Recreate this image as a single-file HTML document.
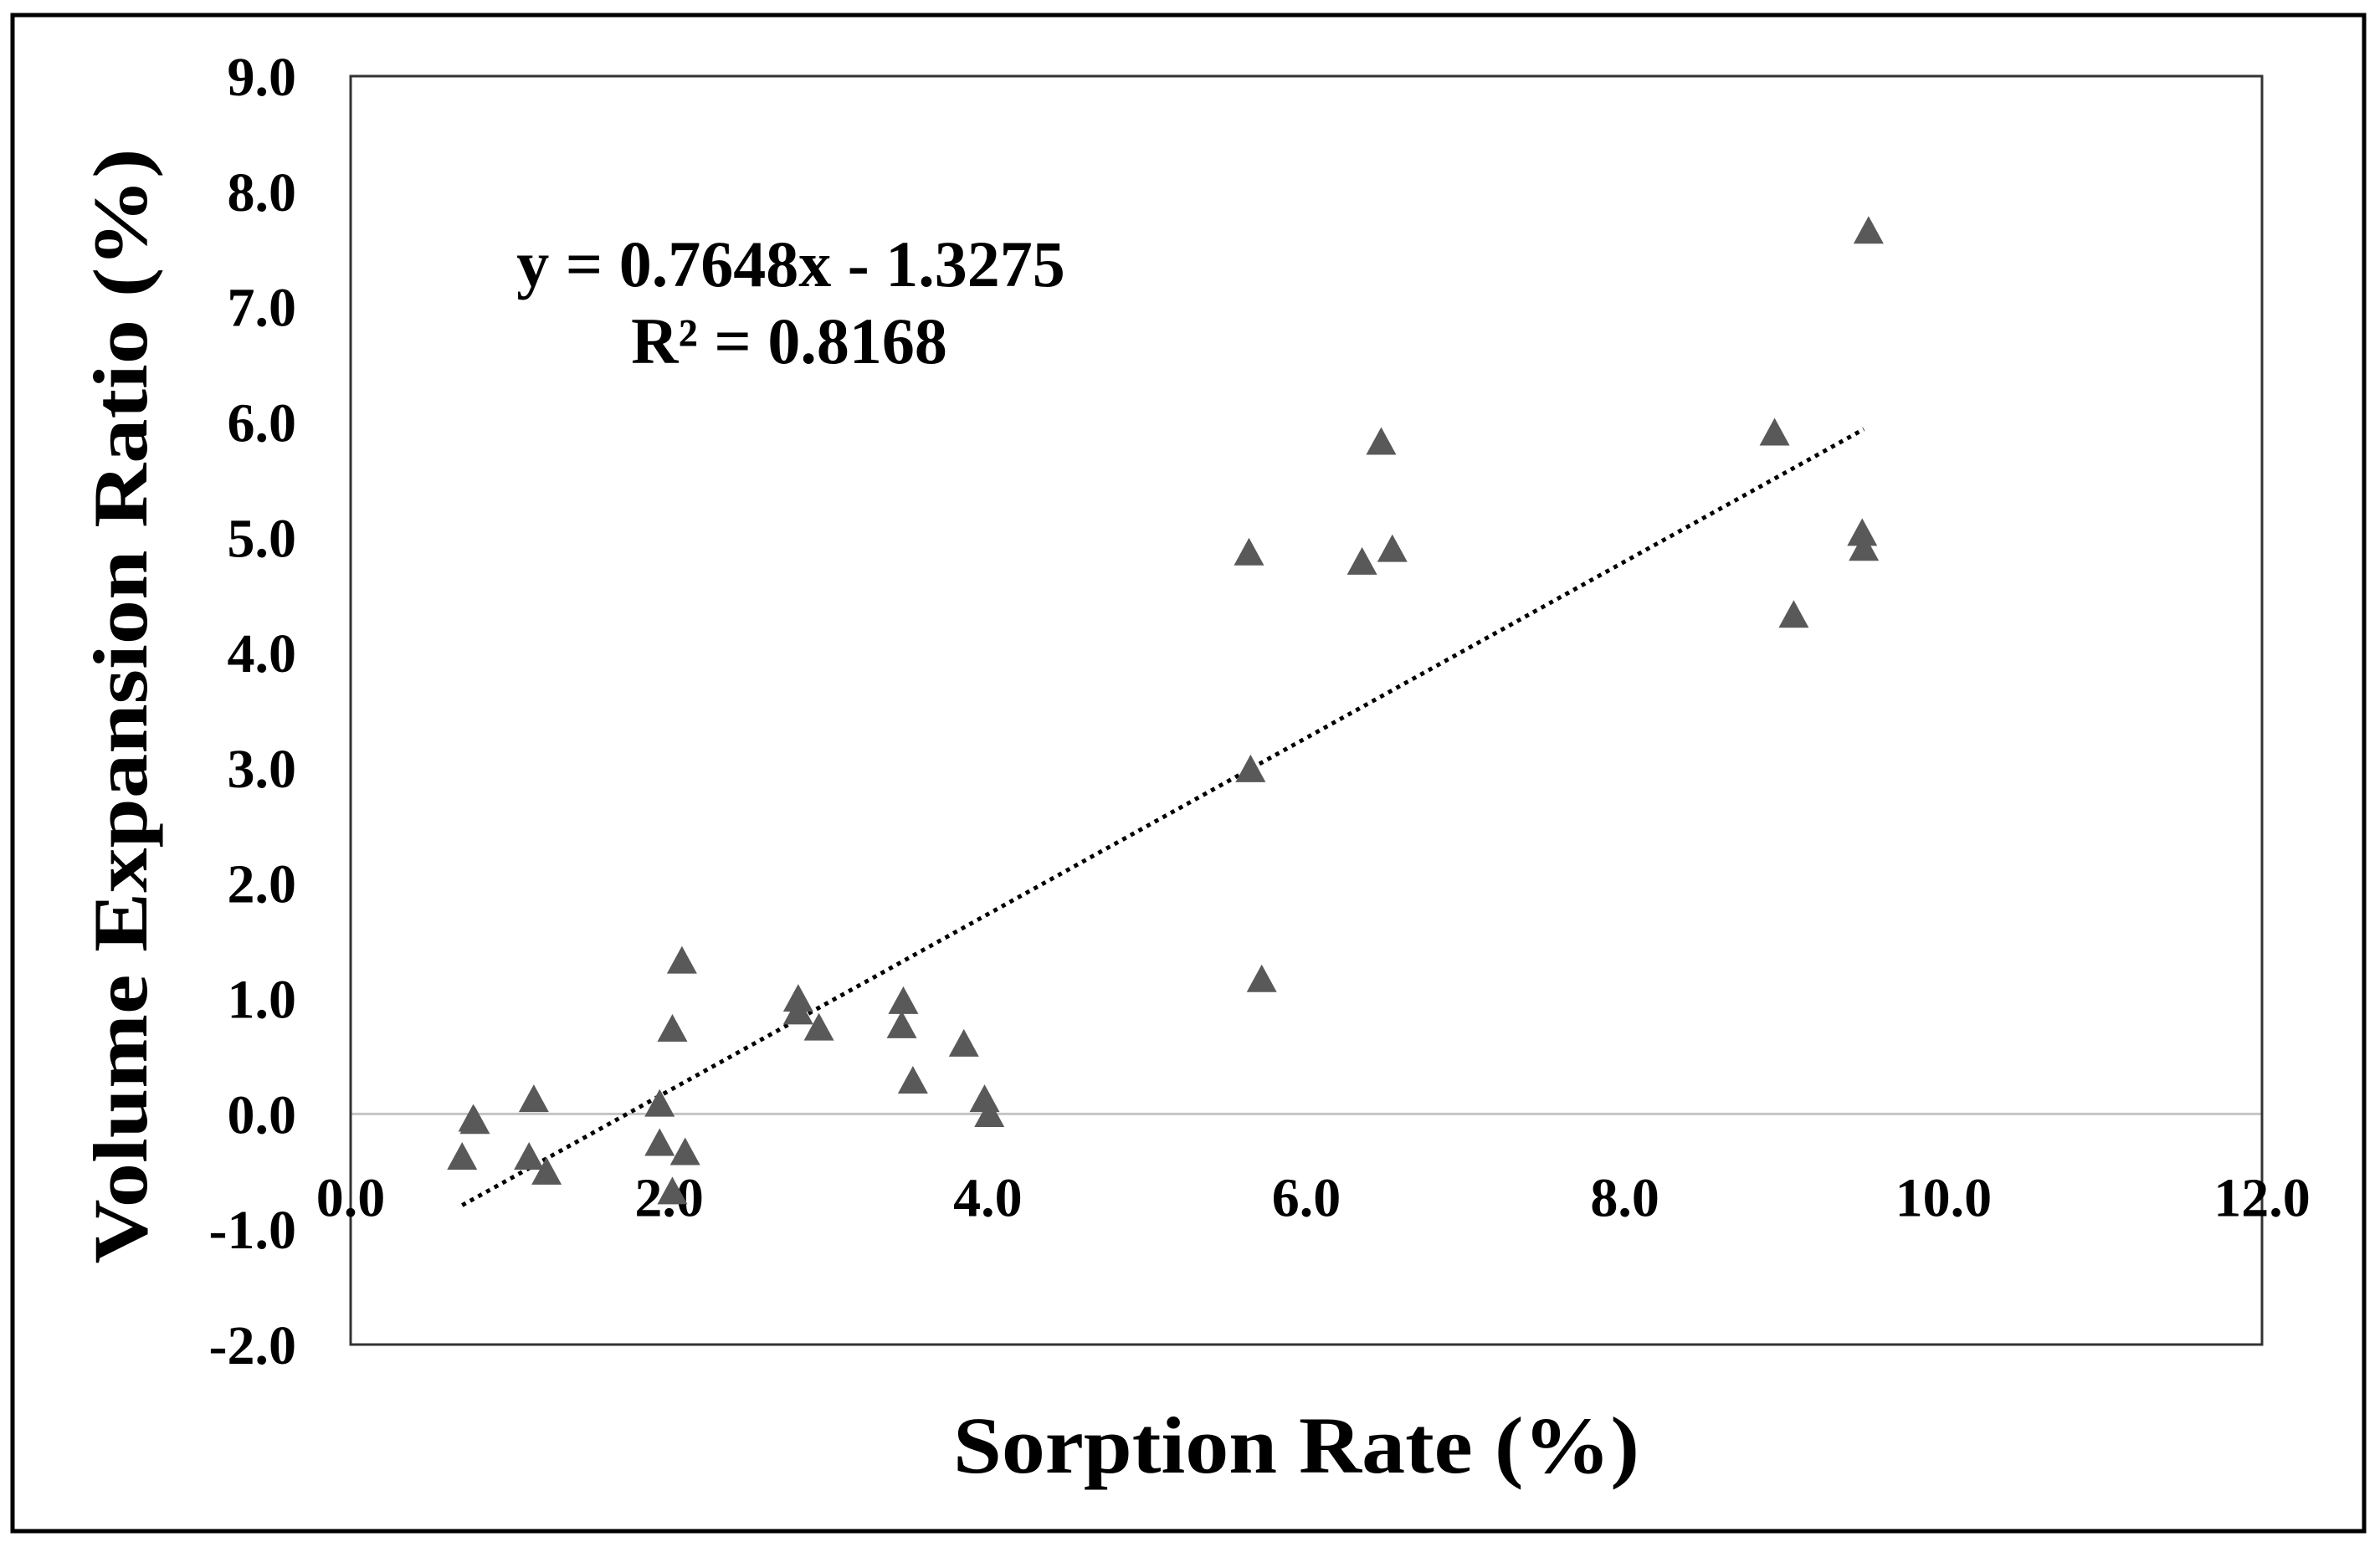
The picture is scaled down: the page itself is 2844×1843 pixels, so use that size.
<!DOCTYPE html>
<html><head><meta charset="utf-8"><style>
html,body{margin:0;padding:0;background:#fff;}
svg{display:block;}
</style></head><body>
<svg id="chart" width="2844" height="1843" viewBox="0 0 2844 1843" xmlns="http://www.w3.org/2000/svg">
<rect x="15" y="18" width="2810" height="1812" fill="#fff" stroke="#000" stroke-width="5"/>
<g id="grid"></g>
<rect x="419" y="91" width="2284" height="1516" fill="none" stroke="#333" stroke-width="3"/>
<g id="ticks" font-family="'Liberation Serif', serif" font-weight="bold" font-size="66" fill="#000"></g>
<g id="trend"></g>
<g id="points"></g>
<text x="945" y="342" text-anchor="middle" font-family="'Liberation Serif', serif" font-weight="bold" font-size="78">y = 0.7648x - 1.3275</text>
<text x="943" y="434" text-anchor="middle" font-family="'Liberation Serif', serif" font-weight="bold" font-size="78">R² = 0.8168</text>
<text transform="translate(175,844) rotate(-90)" text-anchor="middle" font-family="'Liberation Serif', serif" font-weight="bold" font-size="92" textLength="1333" lengthAdjust="spacingAndGlyphs">Volume Expansion Ratio (%)</text>
<text x="1549" y="1760" text-anchor="middle" font-family="'Liberation Serif', serif" font-weight="bold" font-size="96" textLength="820" lengthAdjust="spacingAndGlyphs">Sorption Rate (%)</text>
</svg>
<script>
const xTicks = [0, 2, 4, 6, 8, 10, 12];
const yTicks = [-2, -1, 0, 1, 2, 3, 4, 5, 6, 7, 8, 9];
const sorptionRate = [0.70,0.77,0.78,1.15,1.12,1.23,1.94,1.94,2.02,2.08,2.10,2.02,2.81,2.81,2.94,3.47,3.46,3.53,3.85,3.98,4.01,5.64,5.65,5.72,6.35,6.47,6.54,8.94,9.06,9.49,9.50,9.53];
const expansionRatio = [-0.36,-0.03,-0.05,0.14,-0.36,-0.49,0.10,-0.24,0.75,1.34,-0.32,-0.66,1.01,0.90,0.76,0.99,0.78,0.30,0.62,0.14,0.01,4.88,3.00,1.18,4.80,5.84,4.91,5.92,4.34,5.05,4.92,7.67];
const trendSlope = 0.7648;
const trendIntercept = -1.3275;
const trendRange = [0.70, 9.50];

const NS = 'http://www.w3.org/2000/svg';
const L = 419, R = 2703, T = 91, B = 1607;
const xMin = 0, xMax = 12, yMin = -2, yMax = 9;
function sx(v){ return L + (v - xMin) / (xMax - xMin) * (R - L); }
function sy(v){ return B - (v - yMin) / (yMax - yMin) * (B - T); }
function mk(tag, attrs, parent){ const e = document.createElementNS(NS, tag); for (const k in attrs) e.setAttribute(k, attrs[k]); parent.appendChild(e); return e; }

const grid = document.getElementById('grid');
const zl = mk('line', {x1: L, x2: R, y1: sy(0), y2: sy(0), stroke: '#c4c4c4', 'stroke-width': 3}, grid);



const ticks = document.getElementById('ticks');
yTicks.forEach(v => {
  const t = mk('text', {x: 354, y: sy(v) + 23, 'text-anchor': 'end'}, ticks);
  t.textContent = v.toFixed(1);
  
  
});
xTicks.forEach(v => {
  const t = mk('text', {x: sx(v), y: sy(0) + 122, 'text-anchor': 'middle'}, ticks);
  t.textContent = v.toFixed(1);
  
  
});

const trend = document.getElementById('trend');
const tl = mk('line', {x1: sx(trendRange[0]), y1: sy(trendSlope*trendRange[0]+trendIntercept), x2: sx(trendRange[1]), y2: sy(trendSlope*trendRange[1]+trendIntercept), stroke: '#000', 'stroke-width': 5, 'stroke-dasharray': '5 6'}, trend);



const pts = document.getElementById('points');
sorptionRate.forEach((xv, i) => {
  const cx = sx(xv), cy = sy(expansionRatio[i]) + 4;
  const p = mk('polygon', {points: `${cx},${cy-20} ${cx-18},${cy+13} ${cx+18},${cy+13}`, fill: '#595959'}, pts);
  
  
});
</script>
</body></html>
